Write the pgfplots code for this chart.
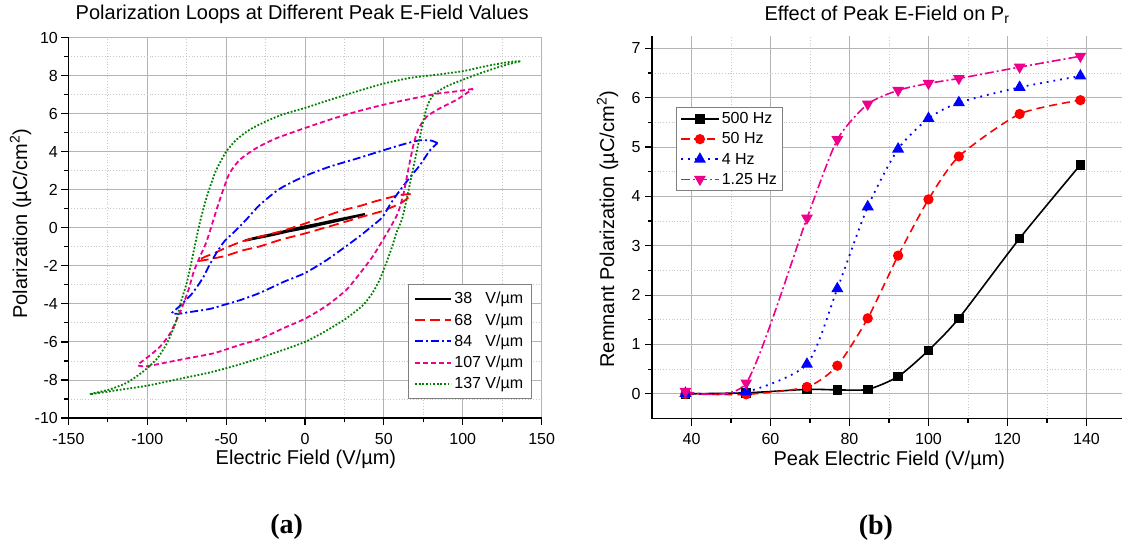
\documentclass[border=0pt]{standalone}
\usepackage{fontspec}
\setmainfont{Liberation Sans}
\newfontfamily\capfont{Liberation Serif}
\usepackage{pgfplots}
\pgfplotsset{compat=1.18}
\definecolor{mygreen}{RGB}{0,128,0}
\definecolor{gridmaj}{RGB}{180,180,180}
\definecolor{gridmin}{RGB}{200,200,200}
\pgfplotsset{
  myaxis/.style={
    scale only axis,
    axis lines=left, axis line style={-, line width=1.6pt, black},
    tick align=outside, major tick length=7pt, minor tick length=4pt,
    every tick/.style={black, line width=1.2pt},
    grid=both,
    major grid style={gridmaj, line width=0.9pt},
    minor grid style={gridmin, line width=0.8pt, dotted},
    /pgf/number format/assume math mode=true,
    tick label style={font=\fontsize{16}{16}\selectfont},
    xticklabel style={anchor=base, yshift=-19pt},
    label style={font=\fontsize{20}{20}\selectfont},
    title style={font=\fontsize{20}{20}\selectfont, anchor=base},
    legend style={font=\fontsize{16}{18}\selectfont, draw=gray, line width=1pt, fill=white, legend cell align=left},
  }
}
\begin{document}
\begin{tikzpicture}
\path[use as bounding box] (0pt,0pt) rectangle (1123pt,542pt);
% ---------------- (a) ----------------
\begin{axis}[myaxis,
  at={(68.4pt,124pt)}, anchor=south west,
  width=473.2pt, height=380.5pt,
  xmin=-150, xmax=150, ymin=-10, ymax=10,
  xtick={-150,-100,...,150}, ytick={-10,-8,...,10},
  minor x tick num=1, minor y tick num=1,
  yticklabel style={anchor=east, xshift=0pt},
  title={Polarization Loops at Different Peak E-Field Values},
  title style={at={(0.494,1.0315)}},
  xlabel={Electric Field (V/µm)},
  xlabel style={at={(0.502,-0.1209)}, anchor=base},
  ylabel={Polarization (µC/cm\textsuperscript{2})},
  ylabel style={at={(-0.101,0.51)}, anchor=center},
  legend style={at={(0.979,0.353)}, anchor=north east, row sep=4.2pt, inner xsep=6pt, inner ysep=6pt},
  legend image code/.code={\draw[#1] (0pt,0pt) -- (36pt,0pt);},
]
\addplot[black, line width=2.2pt, smooth, tension=0.4] coordinates {
(38,0.72) (28,0.55) (18,0.38) (8,0.2) (0,0.07) (-10,-0.12) (-20,-0.32) (-30,-0.5) (-38,-0.67)
(-30,-0.54) (-20,-0.37) (-10,-0.18) (0,-0.02) (10,0.17) (20,0.35) (30,0.55) (38,0.72)};
\addlegendentry{38\hphantom{0} V/µm}
\addplot[red, line width=1.8pt, dash pattern=on 10pt off 5pt, smooth, tension=0.4] coordinates {
(67,1.77) (60,1.72) (55,1.62) (45,1.4) (35,1.15) (24.5,0.93) (10,0.52) (0,0.22) (-15,-0.18) (-30,-0.5) (-40,-0.72) (-50,-1.05) (-58,-1.35) (-64,-1.55) (-68,-1.75)
(-61,-1.66) (-50,-1.47) (-40,-1.2) (-28.7,-0.98) (-15,-0.62) (0,-0.3) (13.8,0.03) (25,0.3) (35,0.55) (48,0.85) (55,1.08) (61,1.3) (66,1.62) (67,1.77)};
\addlegendentry{68\hphantom{0} V/µm}
\addplot[blue, line width=1.8pt, dash pattern=on 8pt off 3pt on 2pt off 3pt, smooth, tension=0.4] coordinates {
(84,4.45) (80,4.58) (73,4.6) (65,4.45) (50,4.08) (33,3.64) (16,3.22) (0,2.72) (-16,2.05) (-28.7,1.2) (-37,0.45) (-44,-0.15) (-51,-0.7) (-56,-1.3) (-60.5,-1.95) (-64.5,-2.6) (-68,-3.05) (-72,-3.5) (-78,-4.0) (-81.5,-4.27) (-84.5,-4.5)
(-80,-4.52) (-73,-4.43) (-60,-4.26) (-50,-4.02) (-41,-3.8) (-28.5,-3.42) (-13.7,-2.85) (0,-2.38) (13.7,-1.7) (26.4,-0.95) (35,-0.42) (42,0.05) (49,0.55) (54.5,1.3) (60.5,2.0) (67,2.7) (73,3.3) (79,4.05) (84,4.45)};
\addlegendentry{84\hphantom{0} V/µm}
\addplot[magenta, line width=1.8pt, dash pattern=on 5pt off 3pt, smooth, tension=0.4] coordinates {
(106.5,7.3) (96,7.17) (84,7.05) (67,6.77) (50,6.47) (33,6.11) (16,5.69) (0,5.24) (-18,4.71) (-31,4.18) (-41.5,3.56) (-48,2.84) (-52,1.96) (-55.5,1.1) (-58.5,0.3) (-62.5,-0.75) (-66.5,-1.5) (-70.5,-2.3) (-74,-3.3) (-79,-4.4) (-85.5,-5.55) (-92,-6.26) (-99.4,-6.78) (-106,-7.22)
(-100.4,-7.28) (-92,-7.15) (-75,-6.87) (-58,-6.6) (-41,-6.15) (-28.5,-5.85) (-13.7,-5.28) (0,-4.78) (13.7,-4.1) (26.4,-3.25) (34.8,-2.4) (43,-1.5) (50,-0.55) (55,0.15) (59,0.8) (62.5,1.8) (65.8,3.2) (69,4.44) (72.1,5.23) (77.3,5.85) (85.7,6.29) (96.2,6.73) (106.5,7.3)};
\addlegendentry{107 V/µm}
\addplot[mygreen, line width=1.8pt, dash pattern=on 1.8pt off 1.8pt, smooth, tension=0.4] coordinates {
(136.5,8.75) (130,8.72) (115,8.5) (100,8.23) (84,8.05) (67,7.88) (50,7.58) (33,7.17) (16,6.73) (0,6.3) (-14,5.96) (-24.5,5.6) (-35,5.16) (-43.6,4.62) (-50,4.0) (-54,3.4) (-57,2.9) (-62,1.7) (-66,0.5) (-69,-0.6) (-72,-1.8) (-75,-2.9) (-79,-4.0) (-82,-5.0) (-87.7,-6.1) (-94,-6.9) (-102.5,-7.55) (-113,-8.15) (-124,-8.5) (-136.5,-8.75)
(-120,-8.55) (-100,-8.3) (-80,-7.95) (-60,-7.6) (-40,-7.15) (-20,-6.6) (0,-6.0) (13.7,-5.4) (26.4,-4.75) (37,-4.05) (43,-3.4) (47.5,-2.7) (51.5,-1.85) (55,-1.05) (58,-0.25) (61.5,0.45) (64.7,1.6) (67.9,2.85) (71,4.08) (74.2,5.3) (77.3,6.35) (81.5,7.0) (90,7.44) (100.4,7.79) (111,8.12) (121.4,8.41) (130,8.62) (136.5,8.75)};
\addlegendentry{137 V/µm}
\end{axis}
% ---------------- (b) ----------------
\begin{axis}[myaxis,
  at={(652pt,123.5pt)}, anchor=south west,
  width=470pt, height=382.5pt,
  xmin=30, xmax=149, ymin=-0.5, ymax=7.25,
  xtick={40,60,...,140}, ytick={0,1,...,7},
  minor x tick num=1, minor y tick num=1,
  yticklabel style={anchor=east, xshift=-1pt},
  title={Effect of Peak E-Field on P\textsubscript{r}},
  title style={at={(0.5,1.0243)}},
  xlabel={Peak Electric Field (V/µm)},
  xlabel style={at={(0.505,-0.124)}, anchor=base},
  ylabel={Remnant Polarization (µC/cm\textsuperscript{2})},
  ylabel style={at={(-0.0947,0.495)}, anchor=center},
  legend style={at={(0.05,0.814)}, anchor=north west, row sep=3.5pt, inner xsep=4pt, inner ysep=3pt},
  legend image code/.code={\draw[#1, mark repeat=2, mark phase=2] plot coordinates {(0pt,0pt) (19pt,0pt) (38pt,0pt)};},
]
\addplot[black, line width=1.6pt, smooth, tension=0.4, mark=square*, mark size=4pt, mark options={solid}] coordinates {
(38.46,0.0) (53.85,0.02) (69.23,0.09) (76.92,0.08) (84.62,0.09) (92.31,0.35) (100,0.88) (107.69,1.53) (123.08,3.15) (138.46,4.64)};
\addlegendentry{500 Hz}
\addplot[red, line width=1.6pt, dash pattern=on 8pt off 5pt, smooth, tension=0.4, mark=*, mark size=4.3pt, mark options={solid}] coordinates {
(38.46,0.0) (53.85,-0.01) (69.23,0.14) (76.92,0.57) (84.62,1.53) (92.31,2.80) (100,3.94) (107.69,4.81) (123.08,5.67) (138.46,5.95)};
\addlegendentry{50 Hz}
\addplot[blue, line width=1.8pt, dash pattern=on 1.8pt off 5pt, smooth, tension=0.4, mark=triangle*, mark size=5.2pt, mark options={solid}] coordinates {
(38.46,0.01) (53.85,0.04) (69.23,0.60) (76.92,2.13) (84.62,3.79) (92.31,4.96) (100,5.58) (107.69,5.90) (123.08,6.21) (138.46,6.44)};
\addlegendentry{4 Hz}
\addplot[magenta, line width=1.6pt, dash pattern=on 9pt off 3pt on 2pt off 3pt, smooth, tension=0.4, mark=triangle*, mark size=5.2pt, mark options={solid, rotate=180}] coordinates {
(38.46,0.05) (53.85,0.22) (69.23,3.56) (76.92,5.15) (84.62,5.87) (92.31,6.15) (100,6.29) (107.69,6.39) (123.08,6.62) (138.46,6.84)};
\addlegendentry{1.25 Hz}
\end{axis}
\node[font=\capfont\bfseries\fontsize{28}{28}\selectfont] at (286.6pt,15.3pt) {(a)};
\node[font=\capfont\bfseries\fontsize{28}{28}\selectfont] at (875.9pt,14pt) {(b)};
\end{tikzpicture}
\end{document}
